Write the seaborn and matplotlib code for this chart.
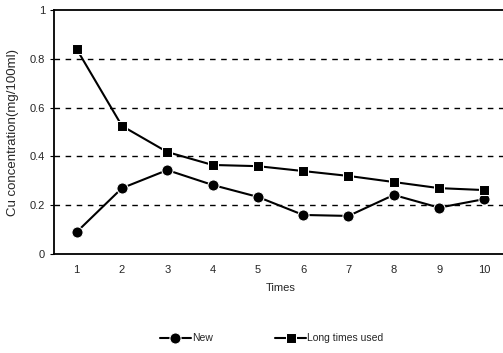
import matplotlib
matplotlib.use("Agg")
import matplotlib.pyplot as plt
import seaborn as sns
import pandas as pd

times = [1, 2, 3, 4, 5, 6, 7, 8, 9, 10]
new_vals = [0.09, 0.27, 0.344, 0.283, 0.234, 0.16, 0.156, 0.242, 0.19, 0.225]
long_vals = [0.84, 0.525, 0.418, 0.365, 0.36, 0.34, 0.32, 0.295, 0.27, 0.262]
y_ticks = [0, 0.2, 0.4, 0.6, 0.8, 1]
y_labels = ["0", "0.2", "0.4", "0.6", "0.8", "1"]

sns.set_style("white")
plt.rcParams['font.family'] = ['Liberation Sans', 'DejaVu Sans']

df = pd.DataFrame({"Times": times + times,
                   "Cu": new_vals + long_vals,
                   "series": ["New"] * 10 + ["Long times used"] * 10})

fig = plt.figure(figsize=(5.03, 3.53), dpi=100)
ax = fig.add_axes([0.1074, 0.2805, 0.9006, 0.691])

sns.lineplot(data=df[df.series == "New"], x="Times", y="Cu", color="black",
             marker="o", markersize=8, linewidth=1.5, label="New", ax=ax)
sns.lineplot(data=df[df.series == "Long times used"], x="Times", y="Cu", color="black",
             marker="s", markersize=7.5, linewidth=1.5, label="Long times used", ax=ax)

for y in y_ticks[1:-1]:
    ax.axhline(y, color="black", linestyle=(0, (4, 4)), linewidth=1.0, zorder=0)

ax.set_xlim(0.5, 10.5)
ax.set_ylim(0, 1)
ax.set_xticks(times)
ax.set_xticks([t + 0.5 for t in times[:-1]], minor=True)
ax.tick_params(axis="x", which="major", length=0, labelsize=8, pad=8)
ax.tick_params(axis="x", which="minor", length=4, direction="in", color="black")
ax.set_yticks(y_ticks)
ax.set_yticklabels(y_labels)
ax.tick_params(axis="y", length=3, direction="out", labelsize=8, color="black", left=True)

for side in ["left", "bottom", "top"]:
    ax.spines[side].set_color("black")
    ax.spines[side].set_linewidth(1.3)
ax.spines["right"].set_visible(False)

ax.set_xlabel("Times", fontsize=8, labelpad=6)
ax.set_ylabel("Cu concentration(mg/100ml)", fontsize=9.5)
ax.yaxis.set_label_coords(-0.077, 0.5)

ax.legend(loc="center", bbox_to_anchor=(0.54, 0.042), bbox_transform=fig.transFigure,
          ncol=2, frameon=False, fontsize=7.5, handlelength=3, columnspacing=6,
          handletextpad=0.1)

fig.savefig("out.png", dpi=100)
